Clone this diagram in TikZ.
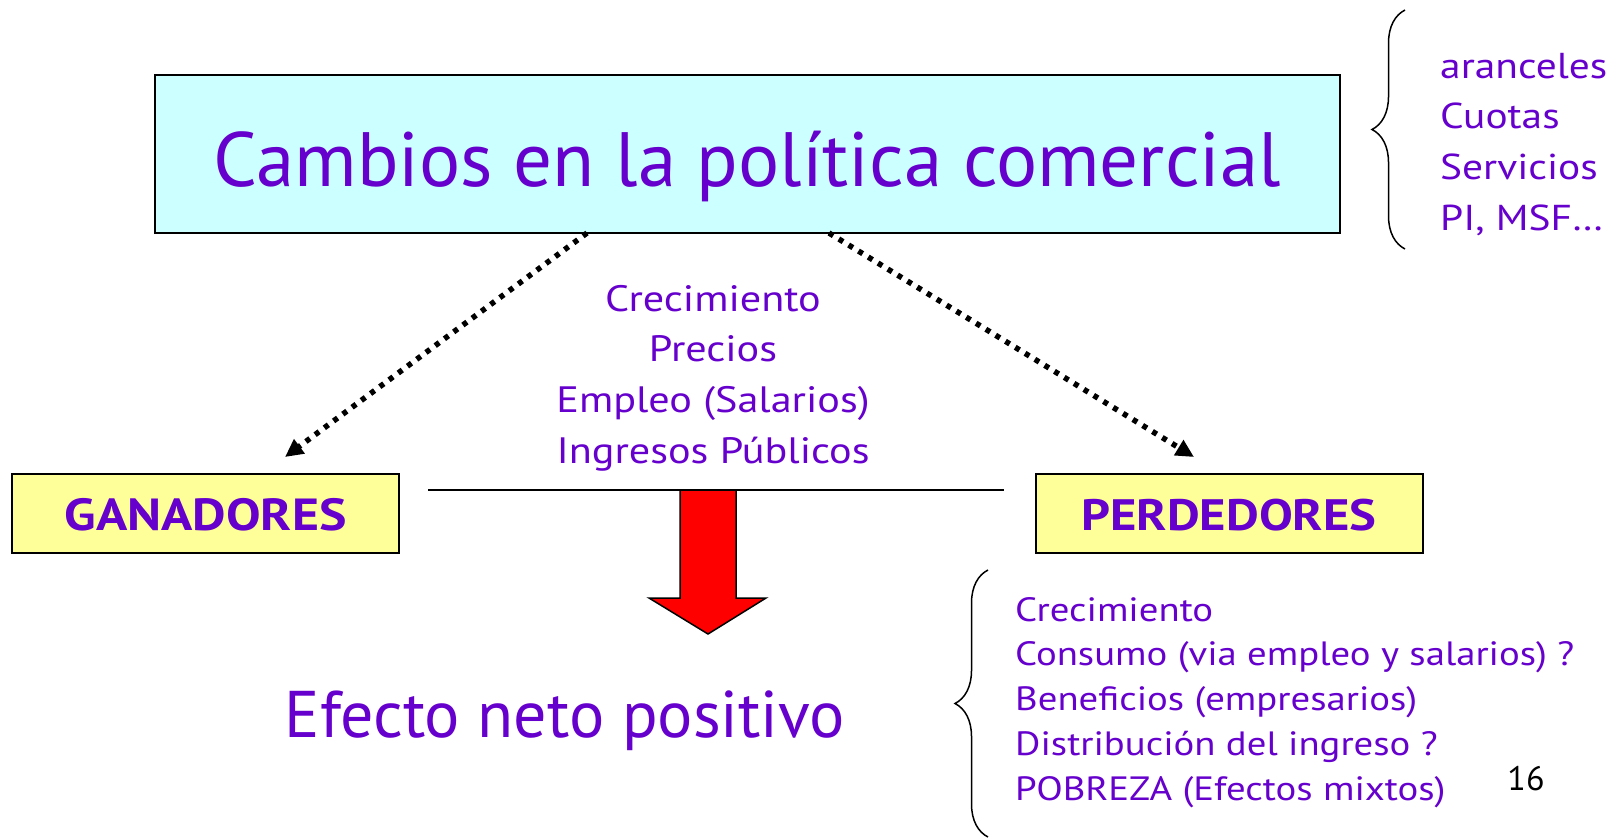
\documentclass[tikz,border=0pt]{standalone}
\usepackage{fontspec}
\setmainfont{PT Sans}
\newfontfamily\ancha[FakeStretch=1.15]{PT Sans}
\usetikzlibrary{arrows.meta,decorations.pathreplacing,positioning}
\definecolor{lila}{HTML}{6600CC}
\definecolor{celeste}{HTML}{CCFFFF}
\definecolor{amarillo}{HTML}{FFFF99}
\tikzset{
  caja/.style={draw,line width=2pt,inner sep=0pt,text=lila},
  texto/.style={text=lila,inner sep=0pt},
  punteado/.style={line width=5.5pt,dash pattern=on 5pt off 6.5pt,-{Triangle[length=18pt,width=17pt]}},
  llave/.style={decorate,decoration={brace,amplitude=33pt},line width=1.5pt}
}
\begin{document}
\begin{tikzpicture}[x=1pt,y=-1pt]
  \useasboundingbox (0,0) rectangle (1624,838);
  % Kasten oben
  \node[caja,fill=celeste,minimum width=1185pt,minimum height=158pt,
        text height=64pt,text depth=0pt,font=\fontsize{77}{77}\selectfont] (politica) at (747.5,154) {Cambios en la política comercial};
  \draw[llave] (1405,249) -- (1405,10); % Klammer rechts
  \foreach \t [count=\i] in {aranceles,Cuotas,Servicios,{PI, MSF\ldots}}
   \node[texto,font=\ancha\fontsize{36}{36}\selectfont,anchor=base west] (instr\i) at (1440,{78+50.7*(\i-1)}) {\t};
  % Gewinner und Verlierer
  \node[caja,fill=amarillo,minimum width=387pt,minimum height=79pt,
        text height=34pt,text depth=0pt,font=\ancha\bfseries\fontsize{45}{45}\selectfont] (ganadores) at (205.5,513) {GANADORES};
  \node[caja,fill=amarillo,minimum width=387pt,minimum height=79pt,
        text height=34pt,text depth=0pt,font=\ancha\bfseries\fontsize{44}{44}\selectfont] (perdedores) at (1229,513) {PERDEDORES};
  \coordinate (salida1) at (587,233);
  \coordinate (salida2) at (829,233);
  \coordinate (llegada1) at (285,457);
  \coordinate (llegada2) at (1194,457);
  \draw[punteado] (salida1) -- (llegada1);
  \draw[punteado] (salida2) -- (llegada2);
  % Kanaele in der Mitte
  \foreach \t [count=\i] in {Crecimiento,Precios,Empleo (Salarios),Ingresos Públicos}
   \node[texto,font=\ancha\fontsize{36.7}{36.7}\selectfont,anchor=base] (canal\i) at (713,{311+50.7*(\i-1)}) {\t};
  \coordinate (linea1) at (428,490);
  \coordinate (linea2) at (1004,490);
  \draw[line width=2pt] (linea1) -- (linea2);
  % roter Pfeil
  \draw[fill=red,line width=1.5pt,line join=miter] (680,490) -- (736,490) -- (736,598) -- (766,598)
    -- (708,634) -- (649,598) -- (680,598) -- cycle;
  \node[texto,font=\fontsize{66}{66}\selectfont,anchor=base] (efecto) at (565,737) {Efecto neto positivo};
  % Klammer unten
  \draw[llave] (988,837) -- (988,570);
  \foreach \t [count=\i] in {Crecimiento,Consumo (via empleo y salarios) ?,Beneficios (empresarios),Distribución del ingreso ?,POBREZA (Efectos mixtos)}
   \node[texto,font=\ancha\fontsize{33.7}{33.7}\selectfont,anchor=base west] (efectos\i) at (1015,{621+44.75*(\i-1)}) {\t};
  \node[inner sep=0pt,font=\fontsize{34}{34}\selectfont,anchor=base] (pagina) at (1526,790) {16};
\end{tikzpicture}
\end{document}
